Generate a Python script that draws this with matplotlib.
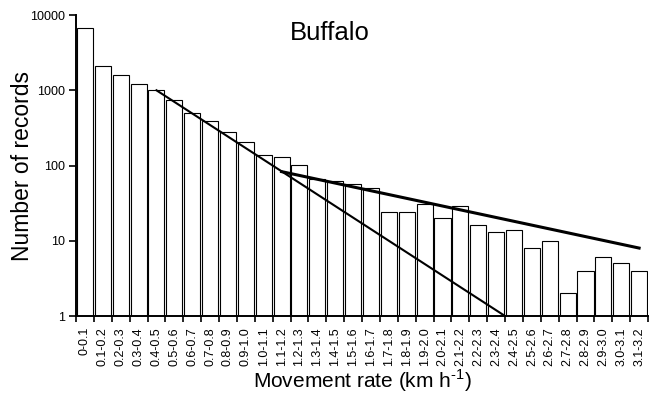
import numpy as np
import matplotlib
matplotlib.use('Agg')
import matplotlib.pyplot as plt

plt.rcParams['font.family'] = ['Liberation Sans', 'DejaVu Sans']
plt.rcParams['mathtext.fontset'] = 'custom'
plt.rcParams['mathtext.rm'] = 'Liberation Sans'

# movement-rate classes (km/h) and record counts per class
rate_bins = ['0-0.1', '0.1-0.2', '0.2-0.3', '0.3-0.4', '0.4-0.5', '0.5-0.6',
             '0.6-0.7', '0.7-0.8', '0.8-0.9', '0.9-1.0', '1.0-1.1', '1.1-1.2',
             '1.2-1.3', '1.3-1.4', '1.4-1.5', '1.5-1.6', '1.6-1.7', '1.7-1.8',
             '1.8-1.9', '1.9-2.0', '2.0-2.1', '2.1-2.2', '2.2-2.3', '2.3-2.4',
             '2.4-2.5', '2.5-2.6', '2.6-2.7', '2.7-2.8', '2.8-2.9', '2.9-3.0',
             '3.0-3.1', '3.1-3.2']
records = [6700, 2130, 1590, 1220, 1000, 745, 500, 394, 282, 203, 136, 131,
           102, 67, 63, 57, 50, 24, 24, 31, 20, 29, 16, 13, 14, 8, 10, 2,
           4, 6, 5, 4]

# fitted lines (x in class index, y in records)
steep_x = [4, 23.5]
steep_y = [1000, 1]
shallow_x = [11, 31]
shallow_y = [83, 8]

fig = plt.figure(figsize=(6.62, 3.96), dpi=100)
ax = fig.add_axes([0.1148, 0.202, 0.8641, 0.760])

x = np.arange(len(rate_bins))
ax.bar(x, records, width=0.9, color='white', edgecolor='black', linewidth=0.8,
       zorder=2)
ax.plot(steep_x, steep_y, color='black', linewidth=1.5, zorder=3)
ax.plot(shallow_x, shallow_y, color='black', linewidth=2.2, zorder=3)

ax.set_yscale('log')
ax.set_ylim(1, 10000)
ax.set_xlim(-0.5, len(rate_bins) - 0.5)
ax.set_yticks([1, 10, 100, 1000, 10000])
ax.set_yticklabels(['1', '10', '100', '1000', '10000'])
ax.yaxis.set_minor_locator(matplotlib.ticker.NullLocator())

# tick marks at class boundaries, labels at class centres
ax.set_xticks(np.arange(len(rate_bins) + 1) - 0.5)
ax.set_xticklabels([])
ax.set_xticks(x, minor=True)
ax.set_xticklabels(rate_bins, minor=True, rotation=90, fontsize=9)
ax.tick_params(axis='x', which='minor', length=0, pad=8)
ax.tick_params(axis='x', which='major', length=4, width=1.2, direction='out')
ax.tick_params(axis='y', which='major', length=5, width=1.2, labelsize=9, pad=3)

for side in ['top', 'right']:
    ax.spines[side].set_visible(False)
for side in ['left', 'bottom']:
    ax.spines[side].set_linewidth(1.4)

fig.text(23 / 662, 1 - 166 / 396, 'Number of records', rotation=90,
         fontsize=16.5, ha='center', va='center')
fig.text(362 / 662, 1 - 381 / 396, r'Movement rate (km h$^{\text{-1}}$)',
         fontsize=15, ha='center', va='center')
fig.text(330 / 662, 1 - 33 / 396, 'Buffalo', fontsize=18.5,
         ha='center', va='center')

fig.savefig('out.png', dpi=100)
